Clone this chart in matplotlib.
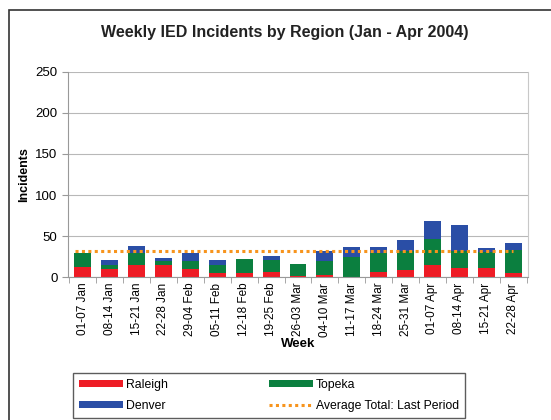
import matplotlib
matplotlib.use("Agg")
import matplotlib.pyplot as plt
import numpy as np
from matplotlib.patches import Rectangle

plt.rcParams["font.family"] = ["Liberation Sans", "DejaVu Sans"]

weeks = ["01-07 Jan", "08-14 Jan", "15-21 Jan", "22-28 Jan", "29-04 Feb",
         "05-11 Feb", "12-18 Feb", "19-25 Feb", "26-03 Mar", "04-10 Mar",
         "11-17 Mar", "18-24 Mar", "25-31 Mar", "01-07 Apr", "08-14 Apr",
         "15-21 Apr", "22-28 Apr"]
raleigh = [12, 10, 15, 15, 10, 5, 5, 6, 1, 3, 0, 6, 9, 15, 11, 11, 5]
topeka = [17, 5, 14, 5, 10, 10, 17, 15, 15, 17, 24, 23, 23, 32, 21, 20, 28]
denver = [1, 6, 9, 3, 9, 6, 0, 5, 0, 12, 13, 8, 13, 21, 31, 4, 9]
avg_last_period = 32

RED = "#ee1c25"
GREEN = "#0b7f3f"
BLUE = "#2a4ea6"
ORANGE = "#f7941d"

fig = plt.figure(figsize=(5.51, 4.20), dpi=100)
ax = fig.add_axes([0.1234, 0.340, 0.8348, 0.489])

x = np.arange(len(weeks))
r = np.array(raleigh)
t = np.array(topeka)
d = np.array(denver)
w = 0.63
b1 = ax.bar(x, r, w, color=RED, label="Raleigh", zorder=2)
b2 = ax.bar(x, t, w, bottom=r, color=GREEN, label="Topeka", zorder=2)
b3 = ax.bar(x, d, w, bottom=r + t, color=BLUE, label="Denver", zorder=2)
ln, = ax.plot([x[0] - 0.3, x[-1]], [avg_last_period] * 2, color=ORANGE,
              lw=2.2, ls=(0, (1, 1.1)), label="Average Total: Last Period", zorder=3)

ax.set_xlim(-0.55, 16.55)
ax.set_ylim(0, 250)
ax.set_yticks(range(0, 251, 50))
ax.yaxis.grid(True, color="#b8b8b8", lw=0.8, zorder=0)
ax.set_xticks(x)
ax.set_xticklabels(weeks, rotation=90, fontsize=8.5)
ax.set_xticks(np.arange(-0.5, 17, 1), minor=True)
ax.tick_params(axis="x", which="major", length=0, pad=4)
ax.tick_params(axis="x", which="minor", length=4, color="#999999")
ax.tick_params(axis="y", labelsize=9.5, length=4, color="#999999")
ax.spines["top"].set_visible(False)
ax.spines["right"].set_color("#c8c8c8")
ax.spines["left"].set_color("#999999")
ax.spines["bottom"].set_color("#999999")

ax.set_ylabel("Incidents", fontsize=9, fontweight="bold", labelpad=4)
ax.set_xlabel("Week", fontsize=9.5, fontweight="bold", labelpad=1)
fig.text(0.517, 0.922, "Weekly IED Incidents by Region (Jan - Apr 2004)",
         ha="center", va="center", fontsize=11.5, fontweight="bold", color="#222222")

# outer chart frame
fig.patches.append(Rectangle((9 / 551, -0.05), 1.0, (410 / 420) + 0.05,
                             transform=fig.transFigure, fill=False,
                             edgecolor="#333333", lw=1.2))

leg = fig.legend([b1, b3, b2, ln],
                 ["Raleigh", "Denver", "Topeka", "Average Total: Last Period"],
                 ncol=2, loc="lower left", bbox_to_anchor=(73 / 551, 2 / 420, 392 / 551, 46 / 420),
                 mode="expand", fontsize=8.8, frameon=True, fancybox=False,
                 handlelength=3.6, handleheight=0.55, handletextpad=0.2,
                 borderaxespad=0, borderpad=0.5, labelspacing=0.75, columnspacing=1.0)
leg.get_frame().set_edgecolor("#333333")
leg.get_frame().set_linewidth(1.0)

fig.savefig("out.png", dpi=100)
